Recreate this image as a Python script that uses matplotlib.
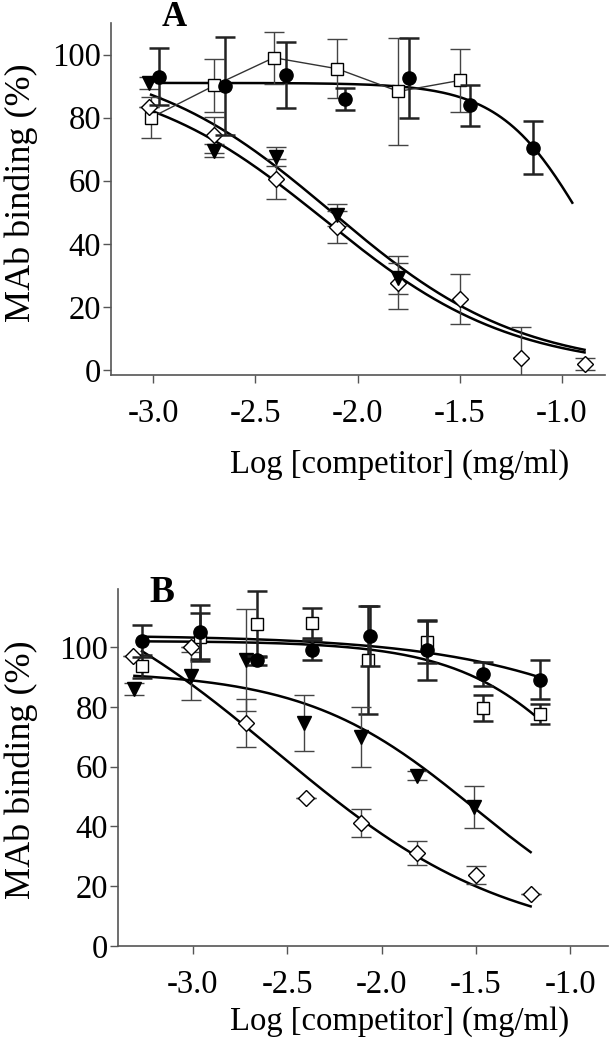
import numpy as np
import matplotlib
matplotlib.use("Agg")
import matplotlib.pyplot as plt

plt.rcParams['font.family'] = ['Liberation Serif', 'DejaVu Serif']

# ---------------- Panel A data ----------------
A_circ_x = [-2.97, -2.65, -2.35, -2.06, -1.75, -1.45, -1.14]
A_circ_y = [93, 90, 93.6, 86, 92.7, 84, 70.5]
A_circ_e = [9, 15.5, 10.5, 3.5, 12.7, 6.5, 8.3]

A_sq_x = [-3.01, -2.70, -2.41, -2.10, -1.80, -1.50]
A_sq_y = [80, 90.2, 99, 95.5, 88.3, 91.8]
A_sq_e = [6.5, 8.3, 8.3, 9.4, 17, 10]

A_tri_x = [-3.02, -2.70, -2.40, -2.10, -1.80]
A_tri_y = [91, 69.5, 67.6, 49, 29]
A_tri_e = [2, 2, 3, 3.5, 5]

A_dia_x = [-3.02, -2.70, -2.40, -2.10, -1.80, -1.50, -1.20, -0.89]
A_dia_y = [83.5, 74.6, 60.6, 45.4, 27.6, 22.5, 3.8, 1.9]
A_dia_e = [0, 5.7, 6.3, 5, 8.4, 8, 9.8, 2]

# fit parameters (top, logIC50, hill, x-start, x-end)
A_fit_circ = (91, -0.88, 2.07, -2.98, -0.95)
A_fit_tri = (100, -2.125, 0.944, -3.01, -0.89)
A_fit_dia = (95, -2.16, 0.95, -3.01, -0.89)

# ---------------- Panel B data ----------------
B_circ_x = [-3.27, -2.96, -2.66, -2.37, -2.06, -1.76, -1.46, -1.16]
B_circ_y = [102, 105, 95.6, 99, 103.7, 99, 91, 89]
B_circ_e = [5.5, 9, 1.5, 3.5, 10, 10, 4, 6.5]

B_sq_x = [-3.27, -2.96, -2.66, -2.37, -2.07, -1.76, -1.46, -1.16]
B_sq_y = [93.5, 103.4, 107.7, 108, 95.6, 101.7, 79.6, 77.6]
B_sq_e = [3.7, 8, 11, 5, 18, 7, 4.3, 3.5]

B_tri_x = [-3.31, -3.01, -2.72, -2.41, -2.11, -1.81, -1.51]
B_tri_y = [86, 90.3, 95.6, 74.6, 70, 57, 46.5]
B_tri_e = [2, 8, 17, 9.5, 10, 1.5, 7]

B_dia_x = [-3.32, -3.01, -2.72, -2.40, -2.11, -1.81, -1.50, -1.21]
B_dia_y = [97, 100, 74.6, 49.5, 41, 31, 23.7, 17.4]
B_dia_e = [0, 0, 8, 0, 4.7, 4, 3, 0]

B_fit_circ = (104, -0.013, 0.7, -3.27, -1.16)
B_fit_sq = (102, -0.779, 1.2, -3.27, -1.16)
B_fit_tri = (92, -1.506, 0.965, -3.31, -1.21)
B_fit_dia = (130, -2.56, 0.7, -3.27, -1.21)

xticks = [-3.0, -2.5, -2.0, -1.5, -1.0]
xticklabels = ["-3.0", "-2.5", "-2.0", "-1.5", "-1.0"]
yticks = [0, 20, 40, 60, 80, 100]


def sigmoid(x, top, c, h):
    return top / (1 + 10 ** ((x - c) * h))


def fit_line(ax, p):
    top, c, h, x0, x1 = p
    xs = np.linspace(x0, x1, 200)
    ax.plot(xs, sigmoid(xs, top, c, h), color='black', lw=1.8, zorder=2)


def pts(ax, x, y, e, marker, fc, ms, elw, ecol, mew=1.0, cap=7, z=4):
    ax.errorbar(x, y, yerr=e, fmt='none', ecolor=ecol, elinewidth=elw,
                capsize=cap, capthick=elw, zorder=z - 1)
    ax.plot(x, y, linestyle='none', marker=marker, markerfacecolor=fc,
            markeredgecolor='black', markersize=ms, markeredgewidth=mew, zorder=z)


fig = plt.figure(figsize=(6.12, 10.5), dpi=100)
W, H = 612, 1050

def add_axes(l, t, r, b):
    return fig.add_axes([l / W, 1 - b / H, (r - l) / W, (b - t) / H])

axA = add_axes(111, 23, 605, 375)
axB = add_axes(118, 589, 608, 946)

for ax in (axA, axB):
    for s in ('top', 'right'):
        ax.spines[s].set_visible(False)
    for s in ('left', 'bottom'):
        ax.spines[s].set_color('#555555')
        ax.spines[s].set_linewidth(1.2)
    ax.tick_params(direction='out', length=6, width=1, color='#555555',
                   labelsize=23.5, pad=1)
    ax.set_yticks(yticks)
    ax.set_xticks(xticks)
    ax.set_xticklabels(xticklabels)
    ax.tick_params(axis='x', pad=11)

axA.set_xlim(-3.206, -0.79)
axA.set_ylim(-1.6, 110)
axB.set_xlim(-3.397, -0.80)
axB.set_ylim(0, 119.4)

# Panel A
fit_line(axA, A_fit_circ)
fit_line(axA, A_fit_tri)
fit_line(axA, A_fit_dia)
axA.plot(A_sq_x, A_sq_y, color='#333333', lw=1.0, zorder=2)
pts(axA, A_sq_x, A_sq_y, A_sq_e, 's', 'white', 8.5, 1.0, '#444444')
pts(axA, A_dia_x, A_dia_y, A_dia_e, 'D', 'white', 8.5, 1.0, '#444444')
pts(axA, A_tri_x, A_tri_y, A_tri_e, 'v', 'black', 9.5, 1.0, '#444444')
pts(axA, A_circ_x, A_circ_y, A_circ_e, 'o', 'black', 9.5, 1.8, '#222222', z=5)

# Panel B
fit_line(axB, B_fit_circ)
fit_line(axB, B_fit_sq)
fit_line(axB, B_fit_tri)
fit_line(axB, B_fit_dia)
pts(axB, B_sq_x, B_sq_y, B_sq_e, 's', 'white', 8.5, 1.8, '#222222')
pts(axB, B_dia_x, B_dia_y, B_dia_e, 'D', 'white', 8.5, 1.0, '#444444')
pts(axB, B_tri_x, B_tri_y, B_tri_e, 'v', 'black', 9.5, 1.0, '#444444')
pts(axB, B_circ_x, B_circ_y, B_circ_e, 'o', 'black', 9.5, 1.8, '#222222', z=5)

# labels
fig.text(174 / W, 1 - 17 / H, "A", fontsize=25, fontweight='bold', ha='center', va='center')
fig.text(162 / W, 1 - 592 / H, "B", fontsize=27, fontweight='bold', ha='center', va='center')
fig.text(21 / W, 1 - 193 / H, "MAb binding (%)", fontsize=26, rotation=90, ha='center', va='center')
fig.text(21 / W, 1 - 770 / H, "MAb binding (%)", fontsize=26, rotation=90, ha='center', va='center')
fig.text(400 / W, 1 - 465 / H, "Log [competitor] (mg/ml)", fontsize=23.5, ha='center', va='center')
fig.text(400 / W, 1 - 1022 / H, "Log [competitor] (mg/ml)", fontsize=23.5, ha='center', va='center')

fig.savefig("out.png", dpi=100)
